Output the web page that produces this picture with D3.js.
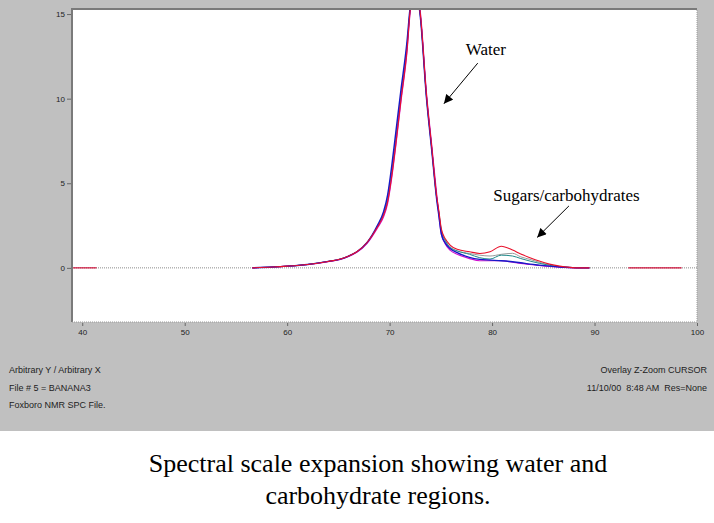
<!DOCTYPE html>
<html>
<head>
<meta charset="utf-8">
<script src="https://cdn.jsdelivr.net/npm/d3@7"></script>
<style>
  body { margin: 0; background: #fff; }
  svg { display: block; }
</style>
</head>
<body>
<svg width="714" height="523"></svg>
<script>
// shift values (x) shared by all traces
const shifts = [56.6, 58.6, 60, 62, 64, 65.2, 66, 66.8, 67.8, 68.8, 69.4, 69.8, 70.2, 70.6, 71.1, 71.7, 72.0, 72.45, 73.0, 73.6,
  74.1, 74.6, 74.8, 75.05, 75.45, 75.9, 76.6, 77.8, 78.8, 79.8, 80.9, 82.0, 82.8, 83.7, 84.6, 85.6, 86.6, 87.6, 88.6, 89.5];

const grayTrace = [0, 0.05, 0.1, 0.2, 0.38, 0.52, 0.7, 0.95, 1.5, 2.45, 3.2, 4.1, 5.7, 7.6, 10.2, 13.1, 15.3, 16.8, 14.9, 10.1,
  7.1, 4.1, 3.3, 2.2, 1.6, 1.25, 1.0, 0.85, 0.75, 0.7, 0.8, 0.86, 0.65, 0.5, 0.33, 0.18, 0.08, 0.02, 0, 0];
const tealTrace = [0, 0.05, 0.1, 0.2, 0.38, 0.52, 0.7, 0.95, 1.5, 2.45, 3.2, 4.1, 5.7, 7.6, 10.2, 13.1, 15.3, 16.8, 14.9, 10.1,
  7.1, 4.1, 3.3, 2.2, 1.6, 1.2, 1.0, 0.8, 0.6, 0.52, 0.75, 0.7, 0.55, 0.4, 0.27, 0.15, 0.06, 0.02, 0, 0];
const magentaTrace = [0, 0.05, 0.1, 0.2, 0.37, 0.5, 0.68, 0.92, 1.45, 2.35, 3.0, 3.8, 5.3, 7.2, 9.8, 12.8, 15.1, 16.8, 15.1, 10.3,
  7.3, 4.3, 3.2, 2.0, 1.4, 1.05, 0.8, 0.55, 0.42, 0.42, 0.42, 0.33, 0.26, 0.2, 0.14, 0.08, 0.04, 0.01, 0, 0];
const blueTrace = [0, 0.05, 0.1, 0.2, 0.38, 0.52, 0.7, 0.95, 1.5, 2.5, 3.3, 4.3, 6.0, 8.0, 10.5, 13.4, 15.4, 16.8, 14.8, 10.0,
  7.0, 4.0, 3.1, 2.0, 1.45, 1.15, 0.9, 0.62, 0.5, 0.46, 0.42, 0.36, 0.3, 0.22, 0.16, 0.1, 0.05, 0.02, 0, 0];
const redTrace = [0, 0.05, 0.1, 0.2, 0.38, 0.52, 0.7, 0.95, 1.5, 2.4, 3.1, 3.9, 5.4, 7.3, 9.9, 12.9, 15.2, 16.8, 15.0, 10.2,
  7.2, 4.2, 3.4, 2.3, 1.7, 1.35, 1.1, 0.95, 0.85, 0.95, 1.28, 1.05, 0.82, 0.6, 0.4, 0.22, 0.1, 0.03, 0, 0];

// flat red pieces lying on the zero line
const baselinePieces = [[39, 41.4], [93.3, 98.5]];

const xTicks = [40, 50, 60, 70, 80, 90, 100];
const yTicks = [0, 5, 10, 15];

const footLeft = ["Arbitrary Y / Arbitrary X", "File # 5 = BANANA3", "Foxboro NMR SPC File."];
const footRight = ["Overlay Z-Zoom CURSOR", "11/10/00  8:48 AM  Res=None"];
const captionLines = ["Spectral scale expansion showing water and", "carbohydrate regions."];

const svg = d3.select("svg");

svg.append("rect").attr("x", 0).attr("y", 0).attr("width", 714).attr("height", 431).attr("fill", "#c0c0c0");

const plot = {left: 72, right: 697, top: 9, bottom: 322};

const x = d3.scaleLinear().domain([39, 100]).range([plot.left, plot.right]);
const y = d3.scaleLinear().domain([-3.2, 15.3]).range([plot.bottom, plot.top]);

svg.append("rect")
    .attr("x", plot.left).attr("y", plot.top)
    .attr("width", plot.right - plot.left).attr("height", plot.bottom - plot.top)
    .attr("fill", "#fff");

svg.append("clipPath").attr("id", "clip")
  .append("rect")
    .attr("x", plot.left).attr("y", plot.top)
    .attr("width", plot.right - plot.left).attr("height", plot.bottom - plot.top);

const area = svg.append("g").attr("clip-path", "url(#clip)");

// zero line
area.append("line")
    .attr("x1", x(39)).attr("x2", x(100))
    .attr("y1", y(0)).attr("y2", y(0))
    .attr("stroke", "#8c8c8c")
    .attr("stroke-dasharray", "1,1");

area.selectAll("line.base")
  .data(baselinePieces)
  .join("line")
    .attr("class", "base")
    .attr("x1", d => x(d[0])).attr("x2", d => x(d[1]))
    .attr("y1", y(0)).attr("y2", y(0))
    .attr("stroke", "#d0103a")
    .attr("stroke-width", 1.2);

const traces = [
  {values: grayTrace, color: "#9a9a9a", w: 1},
  {values: tealTrace, color: "#1f8a8a", w: 1},
  {values: magentaTrace, color: "#d010d0", w: 1.2},
  {values: blueTrace, color: "#1818c8", w: 1.4},
  {values: redTrace, color: "#e8102a", w: 1.1}
];

const line = d3.line()
    .x(d => x(d[0]))
    .y(d => y(d[1]))
    .curve(d3.curveMonotoneX);

area.selectAll("path.trace")
  .data(traces)
  .join("path")
    .attr("class", "trace")
    .attr("d", t => line(shifts.map((s, i) => [s, t.values[i]])))
    .attr("fill", "none")
    .attr("stroke", t => t.color)
    .attr("stroke-width", t => t.w);

// frame: sunken look
svg.append("path")
    .attr("d", `M${plot.left},${plot.bottom}V${plot.top}H${plot.right}`)
    .attr("fill", "none").attr("stroke", "#7a7a7a").attr("stroke-width", 2);
svg.append("path")
    .attr("d", `M${plot.left},${plot.bottom}H${plot.right}V${plot.top}`)
    .attr("fill", "none").attr("stroke", "#9a9a9a").attr("stroke-width", 1)
    .attr("stroke-dasharray", "1,1");

// axes
const yAxis = svg.append("g")
    .attr("transform", `translate(${plot.left - 1},0)`)
    .call(d3.axisLeft(y).tickValues(yTicks).tickSize(4).tickPadding(2));
const xAxis = svg.append("g")
    .attr("transform", `translate(0,${plot.bottom + 1})`)
    .call(d3.axisBottom(x).tickValues(xTicks).tickSize(3).tickPadding(3));

[xAxis, yAxis].forEach(a => {
  a.select(".domain").remove();
  a.selectAll("line").attr("stroke", "#666");
  a.selectAll("text")
      .attr("fill", "#222")
      .style("font-family", "'Liberation Sans', Arial, sans-serif")
      .style("font-size", "8px");
});

// annotations
svg.append("defs").append("marker")
    .attr("id", "head")
    .attr("viewBox", "0 0 10 10")
    .attr("refX", 10).attr("refY", 5)
    .attr("markerWidth", 11).attr("markerHeight", 9)
    .attr("markerUnits", "userSpaceOnUse")
    .attr("orient", "auto")
  .append("path")
    .attr("d", "M0,0L10,5L0,10Z")
    .attr("fill", "#000");

const notes = [
  {text: "Water", tx: 79.4, ty: 12.6, from: [78.6, 12.1], to: [75.3, 9.7]},
  {text: "Sugars/carbohydrates", tx: 87.26, ty: 3.95, from: [87.5, 3.66], to: [84.4, 1.8]}
];

notes.forEach(n => {
  svg.append("text")
      .attr("x", x(n.tx)).attr("y", y(n.ty))
      .attr("text-anchor", "middle")
      .style("font-family", "'Liberation Serif', 'Times New Roman', serif")
      .style("font-size", "17px")
      .attr("fill", "#000")
      .text(n.text);
  svg.append("line")
      .attr("x1", x(n.from[0])).attr("y1", y(n.from[1]))
      .attr("x2", x(n.to[0])).attr("y2", y(n.to[1]))
      .attr("stroke", "#000").attr("stroke-width", 1)
      .attr("marker-end", "url(#head)");
});

// footer lines
svg.selectAll("text.fl")
  .data(footLeft)
  .join("text")
    .attr("class", "fl")
    .attr("x", 9).attr("y", (d, i) => 373 + i * 17.5)
    .style("font-family", "'Liberation Sans', Arial, sans-serif")
    .style("font-size", "9px")
    .attr("fill", "#222")
    .text(d => d);

svg.selectAll("text.fr")
  .data(footRight)
  .join("text")
    .attr("class", "fr")
    .attr("x", 707).attr("y", (d, i) => 373 + i * 17.5)
    .attr("text-anchor", "end")
    .style("font-family", "'Liberation Sans', Arial, sans-serif")
    .style("font-size", "9px")
    .attr("fill", "#222")
    .style("white-space", "pre")
    .text(d => d);

// caption
svg.selectAll("text.cap")
  .data(captionLines)
  .join("text")
    .attr("class", "cap")
    .attr("x", 378).attr("y", (d, i) => 472 + i * 32)
    .attr("text-anchor", "middle")
    .style("font-family", "'Liberation Serif', 'Times New Roman', serif")
    .style("font-size", "26px")
    .attr("fill", "#000")
    .text(d => d);
</script>
</body>
</html>
